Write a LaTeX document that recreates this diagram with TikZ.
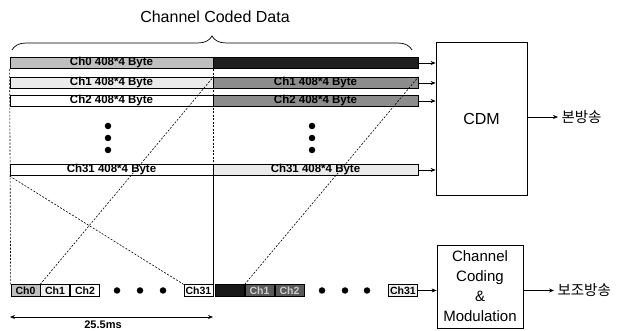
\documentclass[tikz,border=0pt]{standalone}
\usepackage{fontspec}
\setmainfont{Liberation Sans}
\newfontfamily\krfont{Noto Sans CJK KR}
\usetikzlibrary{decorations.pathreplacing,arrows.meta}
\begin{document}
\begin{tikzpicture}[x=1pt,y=-1pt,
  bar/.style={draw=black,line width=0.7pt,inner sep=0pt,minimum height=11.5pt,font=\bfseries\fontsize{11.5}{12}\selectfont},
  lbar/.style={bar,minimum width=203pt},
  rbar/.style={bar,minimum width=205pt},
  slot/.style={draw=black,line width=0.7pt,inner sep=0pt,minimum width=29pt,minimum height=11.5pt,font=\bfseries\fontsize{10.5}{11}\selectfont},
  blk/.style={draw=black,line width=0.7pt,inner sep=0pt},
  guide/.style={line width=0.6pt,dash pattern=on 2pt off 1.5pt},
  feed/.style={-{Stealth[length=5pt,width=4pt]},line width=0.7pt},
  dot/.style={circle,fill=black,inner sep=0pt,minimum size=6.5pt},
  kr/.style={font=\krfont\fontsize{14.5}{16}\selectfont,anchor=west}]
\useasboundingbox (0,0) rectangle (630,331);

% title and brace
\node[font=\fontsize{16}{18}\selectfont] (title) at (215,17) {Channel Coded Data};
\draw[line width=0.7pt,decorate,decoration={brace,amplitude=14pt}] (12,50) -- (412,50);

% channel rows, first and second half
\node[lbar,fill=black!25] (l0) at (111.5,63) {Ch0 408*4 Byte};
\node[rbar,fill=black!88] (r0) at (315.5,63) {};
\node[lbar,fill=black!8] (l1) at (111.5,83) {Ch1 408*4 Byte};
\node[rbar,fill=black!45] (r1) at (315.5,83) {Ch1 408*4 Byte};
\node[lbar,fill=white] (l2) at (111.5,101) {Ch2 408*4 Byte};
\node[rbar,fill=black!45] (r2) at (315.5,101) {Ch2 408*4 Byte};
\node[lbar,fill=white] (l31) at (111.5,170) {Ch31 408*4 Byte};
\node[rbar,fill=black!8] (r31) at (315.5,170) {Ch31 408*4 Byte};

\foreach \n/\yy in {a/126,b/138,c/150} {
  \node[dot] (ld\n) at (108,\yy) {};
  \node[dot] (rd\n) at (312,\yy) {};
}

% time slots
\node[slot,fill=black!25] (b0) at (25.5,290.5) {Ch0};
\node[slot,fill=black!6] (b1) at (55,290.5) {Ch1};
\node[slot,fill=white] (b2) at (85,290.5) {Ch2};
\node[slot,fill=white] (b31) at (198.5,290.5) {Ch31};
\node[slot,fill=black!90] (c0) at (229.5,290.5) {};
\node[slot,fill=black!65,text=black!20] (c1) at (259.5,290.5) {Ch1};
\node[slot,fill=black!65,text=black!20] (c2) at (289.5,290.5) {Ch2};
\node[slot,fill=black!6] (c31) at (403,290.5) {Ch31};
\foreach \xx [count=\i] in {117,140,163} \node[dot] (bd\i) at (\xx,290.5) {};
\foreach \xx [count=\i] in {322,345,367} \node[dot] (cd\i) at (\xx,290.5) {};

% guide lines
\draw[guide] (l0.south west) -- (b0.north west);
\draw[guide] (l0.south east) -- (l31.north east);
\draw[line width=0.7pt] (l31.south east) -- (b31.north east);
\draw[guide] (b1.north west) -- (l1.north east);
\draw[guide] (l31.south west) -- (b31.north west);
\draw[guide] (c1.north west) -- (r1.north east);

% blocks
\node[blk,minimum width=91pt,minimum height=153pt,font=\fontsize{16}{18}\selectfont] (cdm) at (481.5,118.5) {CDM};
\node[blk,minimum width=86pt,minimum height=83pt,align=center,font=\fontsize{15}{20}\selectfont] (cc) at (480,286.5) {Channel\\Coding\\\&\\Modulation};

\foreach \r in {r0,r1,r2,r31} \draw[feed] (\r.east) -- (\r.east -| cdm.west);
\draw[feed] (c31.east) -- (c31.east -| cc.west);

\node[kr] (main) at (558,117) {본방송};
\draw[feed] (cdm.east |- main.west) -- (main.west);
\node[kr] (sub) at (554,290.5) {보조방송};
\draw[feed] (cc.east |- sub.west) -- (sub.west);

% frame duration
\coordinate (t0) at (10,317);
\coordinate (t1) at (213,317);
\draw[{Stealth[length=5pt,width=4pt]}-{Stealth[length=5pt,width=4pt]},line width=0.8pt] (t0) -- (t1);
\node[font=\bfseries\fontsize{11}{12}\selectfont] (dur) at (103,325) {25.5ms};
\end{tikzpicture}
\end{document}
